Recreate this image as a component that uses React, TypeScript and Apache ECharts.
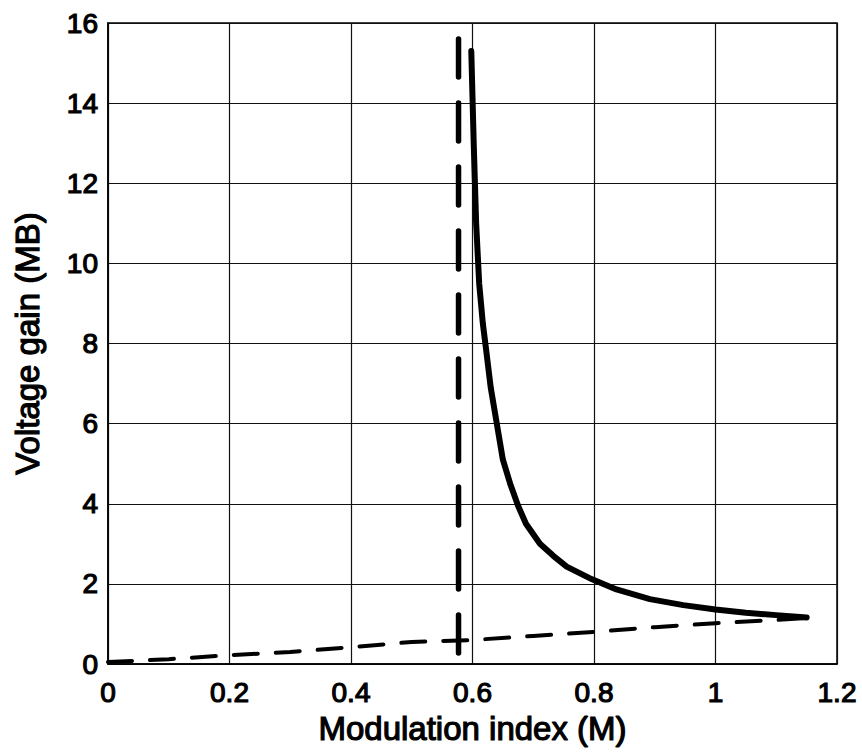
import React, { useEffect, useRef } from "react";
import * as echarts from "echarts";

const xTicks = { min: 0, max: 1.2, interval: 0.2 };
const yTicks = { min: 0, max: 16, interval: 2 };

const gainM = [0.598, 0.602, 0.606, 0.611, 0.617, 0.622, 0.63, 0.64, 0.65, 0.662, 0.675, 0.688, 0.711, 0.733, 0.755, 0.796, 0.837, 0.892, 0.947, 1.0, 1.05, 1.1, 1.15];
const gainV = [15.3, 13.0, 11.0, 9.5, 8.5, 7.9, 6.9, 6.0, 5.1, 4.5, 3.95, 3.5, 3.0, 2.7, 2.43, 2.12, 1.86, 1.62, 1.47, 1.36, 1.28, 1.22, 1.16];

const lowM = [0, 0.1, 0.2, 0.3, 0.4, 0.5, 0.6, 0.7, 0.8, 0.9, 1.0, 1.1, 1.15];
const lowV = [0.05, 0.12, 0.22, 0.3, 0.42, 0.55, 0.6, 0.7, 0.8, 0.92, 1.02, 1.1, 1.15];

const limitM = [0.577, 0.577];
const limitV = [15.6, 0];

const FONT = "'Liberation Sans', Arial, Helvetica, sans-serif";

function zip(a: number[], b: number[]) {
  return a.map((v, i) => [v, b[i]]);
}

export default function App() {
  const ref = useRef<HTMLDivElement>(null);
  useEffect(() => {
    if (!ref.current) return;
    const chart = echarts.init(ref.current, null, { renderer: "svg" });
    const tickLabel = {
      color: "#000",
      fontFamily: FONT,
      fontSize: 28,
      textBorderColor: "#000",
      textBorderWidth: 1.2,
    };
    const nameStyle = {
      color: "#000",
      fontFamily: FONT,
      fontSize: 33,
      textBorderColor: "#000",
      textBorderWidth: 1.2,
    };
    chart.setOption({
      animation: false,
      backgroundColor: "#fff",
      grid: {
        left: 108,
        right: 25,
        top: 23,
        bottom: 88,
        show: true,
        borderColor: "#000",
        borderWidth: 1.5,
      },
      xAxis: {
        type: "value",
        min: xTicks.min,
        max: xTicks.max,
        interval: xTicks.interval,
        name: "Modulation index (M)",
        nameLocation: "middle",
        nameGap: 44,
        nameTextStyle: nameStyle,
        axisLine: { show: true, lineStyle: { color: "#000", width: 1.5 } },
        axisTick: { show: false },
        axisLabel: { ...tickLabel, margin: 14 },
        splitLine: { show: true, lineStyle: { color: "#111", width: 1.2 } },
      },
      yAxis: {
        type: "value",
        min: yTicks.min,
        max: yTicks.max,
        interval: yTicks.interval,
        name: "Voltage gain (MB)",
        nameLocation: "middle",
        nameGap: 64,
        nameTextStyle: nameStyle,
        axisLine: { show: true, lineStyle: { color: "#000", width: 1.5 } },
        axisTick: { show: false },
        axisLabel: { ...tickLabel, margin: 10 },
        splitLine: { show: true, lineStyle: { color: "#111", width: 1.2 } },
      },
      series: [
        {
          type: "line",
          data: zip(lowM, lowV),
          showSymbol: false,
          smooth: false,
          lineStyle: { color: "#000", width: 4, type: [24, 18], cap: "round" },
          z: 3,
        },
        {
          type: "line",
          data: zip(limitM, limitV),
          showSymbol: false,
          lineStyle: { color: "#000", width: 5.5, type: [38, 26], cap: "round" },
          z: 3,
        },
        {
          type: "line",
          data: zip(gainM, gainV),
          showSymbol: false,
          smooth: false,
          lineStyle: { color: "#000", width: 6, cap: "round", join: "round" },
          z: 4,
        },
      ],
    });
    return () => chart.dispose();
  }, []);
  return <div ref={ref} style={{ width: 862, height: 752, position: "absolute", left: 0, top: 0 }} />;
}
